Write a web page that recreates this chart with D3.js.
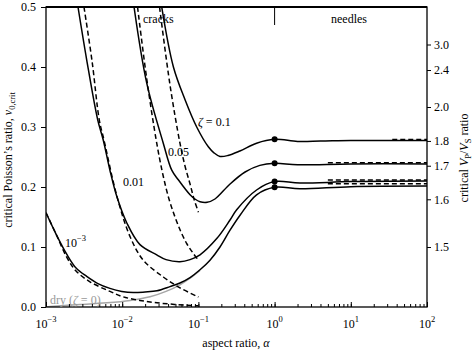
<!DOCTYPE html>
<html>
<head>
<meta charset="utf-8">
<script src="https://cdn.jsdelivr.net/npm/d3@7"></script>
<style>
  body { margin: 0; background: #fff; }
  svg text { font-family: "Liberation Serif", "Times New Roman", "DejaVu Serif", serif; }
</style>
</head>
<body>
<div id="chart"></div>
<script>
// critical Poisson's ratio vs aspect ratio

// full model (solid)
const alphaZ01 = [0.033, 0.047, 0.067, 0.095, 0.135, 0.16, 0.192, 0.244, 0.35, 0.58, 1, 2, 4, 10, 30, 100];
const nuZ01    = [0.5, 0.4, 0.345, 0.30, 0.267, 0.257, 0.251, 0.2525, 0.26, 0.273, 0.2795, 0.276, 0.2765, 0.2775, 0.2775, 0.2775];

const alphaZ005 = [0.0143, 0.021, 0.0346, 0.0447, 0.0545, 0.0777, 0.09, 0.105, 0.13, 0.165, 0.26, 0.41, 0.64, 1, 2, 10, 100];
const nuZ005    = [0.5, 0.373, 0.273, 0.228, 0.212, 0.187, 0.18, 0.1755, 0.1745, 0.18, 0.205, 0.225, 0.236, 0.2394, 0.237, 0.2385, 0.2385];

const alphaZ001 = [0.00263, 0.00342, 0.00477, 0.00565, 0.0069, 0.0085, 0.0115, 0.0171, 0.0284, 0.0376, 0.0573, 0.0777, 0.105, 0.174, 0.26, 0.318, 0.58, 1, 2.15, 10, 100];
const nuZ001    = [0.5, 0.412, 0.312, 0.278, 0.228, 0.184, 0.14, 0.104, 0.087, 0.079, 0.0755, 0.079, 0.087, 0.114, 0.145, 0.162, 0.195, 0.209, 0.2065, 0.209, 0.21];

const alphaZ0001 = [0.001, 0.00135, 0.00187, 0.00248, 0.00342, 0.0048, 0.0069, 0.0099, 0.0139, 0.0199, 0.0286, 0.0424, 0.0573, 0.0777, 0.105, 0.142, 0.192, 0.26, 0.352, 0.58, 1, 2.15, 10, 100];
const nuZ0001    = [0.157, 0.122, 0.088, 0.065, 0.051, 0.039, 0.031, 0.026, 0.024, 0.025, 0.027, 0.034, 0.040, 0.049, 0.062, 0.078, 0.1, 0.128, 0.153, 0.187, 0.1995, 0.197, 0.2005, 0.2015];

// dry rock (grey)
const alphaDry = [0.001, 0.00153, 0.00279, 0.0063, 0.0127, 0.0232, 0.0376, 0.0573, 0.0777, 0.105];
const nuDry    = [0, 0.002, 0.004, 0.007, 0.011, 0.017, 0.026, 0.037, 0.048, 0.061];

// crack approximation (dashed)
const alphaCrack01  = [0.0309, 0.0424, 0.0573, 0.0667, 0.0777, 0.0875, 0.1];
const nuCrack01     = [0.5, 0.37, 0.273, 0.235, 0.205, 0.18, 0.158];
const alphaCrack005 = [0.0159, 0.021, 0.0284, 0.0343, 0.0411, 0.0493, 0.0591, 0.0708, 0.0849, 0.1];
const nuCrack005    = [0.5, 0.38, 0.273, 0.22, 0.18, 0.15, 0.125, 0.105, 0.09, 0.078];
const alphaCrack001 = [0.00315, 0.00402, 0.005, 0.00577, 0.00855, 0.0127, 0.0189, 0.0346, 0.0573, 0.1];
const nuCrack001    = [0.5, 0.41, 0.312, 0.278, 0.184, 0.117, 0.078, 0.05, 0.032, 0.0167];
const alphaCrack0001 = [0.001, 0.00135, 0.00187, 0.00248, 0.00378, 0.0069, 0.01025, 0.0171, 0.0286, 0.0524, 0.1];
const nuCrack0001    = [0.157, 0.122, 0.083, 0.06, 0.042, 0.026, 0.017, 0.011, 0.007, 0.004, 0.002];

// needle approximation (dashed)
const alphaNeedle01 = [35, 100];
const nuNeedle01    = [0.279, 0.279];
const alphaNeedle   = [5, 100];
const nuNeedle005   = [0.2405, 0.2405];
const nuNeedle001   = [0.2115, 0.2115];
const nuNeedle0001  = [0.2055, 0.2055];

// values at alpha = 1
const nuAtSphere = [0.2795, 0.2394, 0.209, 0.1995];

const yTicks = [0, 0.1, 0.2, 0.3, 0.4, 0.5];
const xMajor = [1e-3, 1e-2, 1e-1, 1, 10, 100];
const xExponents = ["\u22123", "\u22122", "\u22121", "0", "1", "2"];
const vpvsTicks = [1.5, 1.6, 1.7, 1.8, 2.0, 2.4, 3.0];
const vpvsLabels = ["1.5", "1.6", "1.7", "1.8", "2.0", "2.4", "3.0"];

const width = 473, height = 355;
const margin = {top: 7, right: 46, bottom: 48, left: 46};

const svg = d3.select("#chart").append("svg")
    .attr("width", width)
    .attr("height", height)
    .attr("font-family", "Liberation Serif, serif");

const x = d3.scaleLog()
    .domain([1e-3, 1e2])
    .range([margin.left, width - margin.right]);

const y = d3.scaleLinear()
    .domain([0, 0.5])
    .range([height - margin.bottom, margin.top]);

// Poisson's ratio from Vp/Vs
function nuFromRatio(r) { return (r * r - 2) / (2 * (r * r - 1)); }

function zip(a, n) { return a.map((v, i) => [v, n[i]]); }

svg.append("clipPath").attr("id", "plotClip")
    .append("rect")
    .attr("x", margin.left).attr("y", margin.top)
    .attr("width", x.range()[1] - margin.left)
    .attr("height", y.range()[0] - margin.top);

const line = d3.line()
    .x(d => x(d[0]))
    .y(d => y(d[1]))
    .curve(d3.curveCatmullRom.alpha(0.5));

const series = [
    {pts: zip(alphaDry, nuDry), color: "#a6a6a6", dash: null},
    {pts: zip(alphaCrack01, nuCrack01), color: "#000", dash: "5,3"},
    {pts: zip(alphaCrack005, nuCrack005), color: "#000", dash: "5,3"},
    {pts: zip(alphaCrack001, nuCrack001), color: "#000", dash: "5,3"},
    {pts: zip(alphaCrack0001, nuCrack0001), color: "#000", dash: "5,3"},
    {pts: zip(alphaZ01, nuZ01), color: "#000", dash: null},
    {pts: zip(alphaZ005, nuZ005), color: "#000", dash: null},
    {pts: zip(alphaZ001, nuZ001), color: "#000", dash: null},
    {pts: zip(alphaZ0001, nuZ0001), color: "#000", dash: null},
    {pts: zip(alphaNeedle01, nuNeedle01), color: "#000", dash: "5,3"},
    {pts: zip(alphaNeedle, nuNeedle005), color: "#000", dash: "5,3"},
    {pts: zip(alphaNeedle, nuNeedle001), color: "#000", dash: "5,3"},
    {pts: zip(alphaNeedle, nuNeedle0001), color: "#000", dash: "5,3"}
];

const plot = svg.append("g").attr("clip-path", "url(#plotClip)");

plot.selectAll("path.curve")
    .data(series).enter()
    .append("path")
    .attr("class", "curve")
    .attr("d", d => line(d.pts))
    .attr("fill", "none")
    .attr("stroke", d => d.color)
    .attr("stroke-width", 1.5)
    .attr("stroke-dasharray", d => d.dash);

plot.selectAll("circle")
    .data(nuAtSphere).enter()
    .append("circle")
    .attr("cx", x(1))
    .attr("cy", d => y(d))
    .attr("r", 3)
    .attr("fill", "#000");

// axes
const axisFont = g => g.selectAll("text")
    .attr("font-family", "Liberation Serif, serif")
    .attr("font-size", 12)
    .attr("fill", "#000");

svg.append("g")
    .attr("transform", "translate(" + margin.left + ",0)")
    .call(d3.axisLeft(y).tickValues(yTicks).tickFormat(d3.format(".1f")).tickSize(5).tickPadding(5))
    .call(g => g.select(".domain").remove())
    .call(axisFont);

svg.append("g")
    .attr("transform", "translate(" + x.range()[1] + ",0)")
    .call(d3.axisRight(y)
        .tickValues(vpvsTicks.map(nuFromRatio))
        .tickFormat((d, i) => vpvsLabels[i])
        .tickSize(4).tickPadding(3))
    .call(g => g.select(".domain").remove())
    .call(axisFont);

svg.append("g")
    .attr("transform", "translate(0," + y(0) + ")")
    .call(d3.axisBottom(x).tickValues(x.ticks()).tickFormat("").tickSize(-3))
    .call(g => g.select(".domain").remove());

svg.append("g")
    .attr("transform", "translate(0," + y(0) + ")")
    .call(d3.axisBottom(x).tickValues(xMajor).tickFormat("").tickSize(-5))
    .call(g => g.select(".domain").remove());

const xLabels = svg.append("g").selectAll("text")
    .data(xMajor).enter()
    .append("text")
    .attr("x", d => x(d))
    .attr("y", 328)
    .attr("text-anchor", "middle")
    .attr("font-size", 12);
xLabels.append("tspan").text("10");
xLabels.append("tspan")
    .attr("dy", -6)
    .attr("font-size", 8.5)
    .text((d, i) => xExponents[i]);

// frame
svg.append("rect")
    .attr("x", margin.left).attr("y", margin.top)
    .attr("width", x.range()[1] - margin.left)
    .attr("height", y.range()[0] - margin.top)
    .attr("fill", "none")
    .attr("stroke", "#000")
    .attr("stroke-width", 1.3);

svg.append("line")
    .attr("x1", margin.left).attr("x2", x.range()[1])
    .attr("y1", margin.top).attr("y2", margin.top)
    .attr("stroke", "#000").attr("stroke-width", 1.8);

svg.append("line")
    .attr("x1", x(1)).attr("x2", x(1))
    .attr("y1", margin.top).attr("y2", margin.top + 18)
    .attr("stroke", "#000").attr("stroke-width", 1);

// annotations
svg.append("text").attr("x", 143).attr("y", 23).attr("font-size", 12).text("cracks");
svg.append("text").attr("x", 331).attr("y", 23).attr("font-size", 12).text("needles");

const zLabel = svg.append("text").attr("x", 198).attr("y", 126).attr("font-size", 12);
zLabel.append("tspan").attr("font-style", "italic").text("\u03b6");
zLabel.append("tspan").text(" = 0.1");

svg.append("text").attr("x", 168).attr("y", 156).attr("font-size", 12).text("0.05");
svg.append("text").attr("x", 123).attr("y", 186).attr("font-size", 12).text("0.01");

const z3 = svg.append("text").attr("x", 65).attr("y", 247).attr("font-size", 12);
z3.append("tspan").text("10");
z3.append("tspan").attr("dy", -6).attr("font-size", 8.5).text("\u22123");

const dry = svg.append("text").attr("x", 50).attr("y", 304).attr("font-size", 12).attr("fill", "#999");
dry.append("tspan").text("dry (");
dry.append("tspan").attr("font-style", "italic").text("\u03b6");
dry.append("tspan").text(" = 0)");

// axis titles
const xt = svg.append("text")
    .attr("x", 236).attr("y", 347)
    .attr("text-anchor", "middle")
    .attr("font-size", 12);
xt.append("tspan").text("aspect ratio, ");
xt.append("tspan").attr("font-style", "italic").text("\u03b1");

const yl = svg.append("text")
    .attr("transform", "translate(12,160) rotate(-90)")
    .attr("text-anchor", "middle")
    .attr("font-size", 12);
yl.append("tspan").text("critical Poisson\u2019s ratio, ");
yl.append("tspan").attr("font-style", "italic").text("\u03bd");
yl.append("tspan").attr("dy", 3).attr("font-size", 8.5).text("0,crit");

const yr = svg.append("text")
    .attr("transform", "translate(468,158) rotate(-90)")
    .attr("text-anchor", "middle")
    .attr("font-size", 12);
yr.append("tspan").text("critical ");
yr.append("tspan").attr("font-style", "italic").text("V");
yr.append("tspan").attr("dy", 3).attr("font-size", 8.5).text("P");
yr.append("tspan").attr("dy", -3).text("/");
yr.append("tspan").attr("font-style", "italic").text("V");
yr.append("tspan").attr("dy", 3).attr("font-size", 8.5).text("S");
yr.append("tspan").attr("dy", -3).text(" ratio");
</script>
</body>
</html>
